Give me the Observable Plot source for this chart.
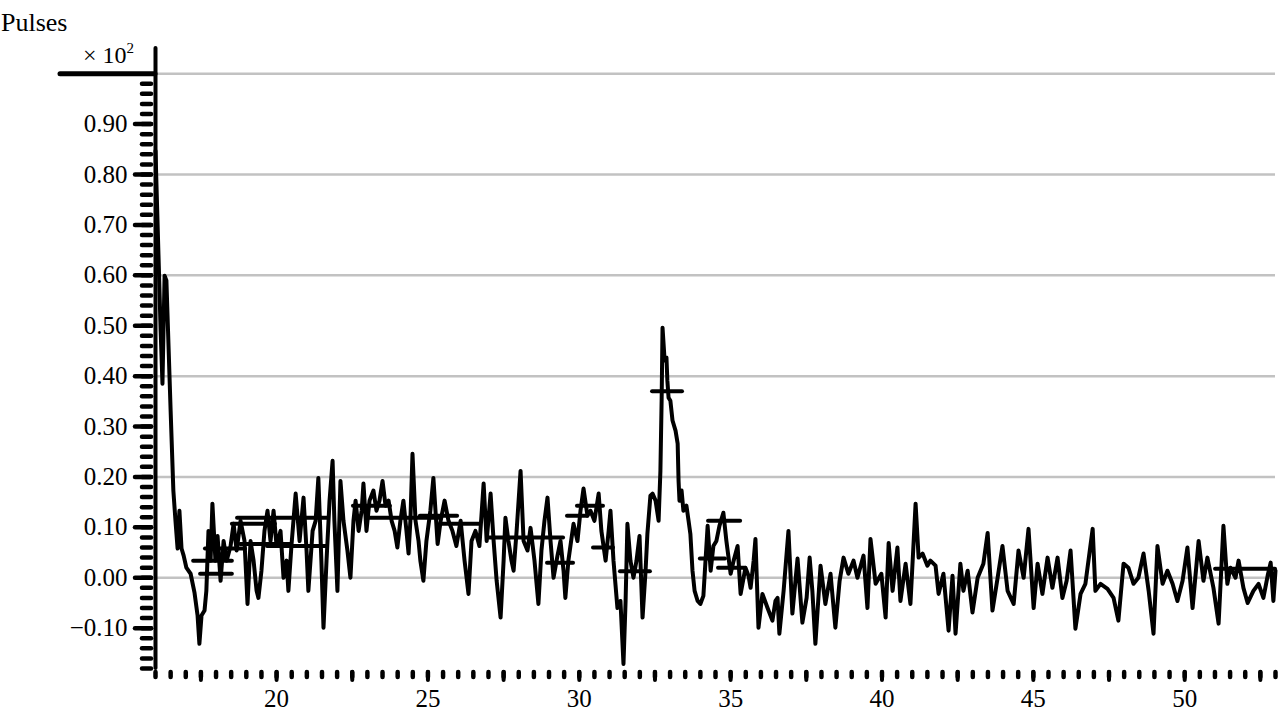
<!DOCTYPE html>
<html><head><meta charset="utf-8">
<script src="https://cdn.jsdelivr.net/npm/d3@7"></script>
<script src="https://cdn.jsdelivr.net/npm/@observablehq/plot@0.6"></script>
<style>
body{margin:0;background:#fff;}
#wrap{position:relative;width:1280px;height:716px;font-family:"Liberation Serif","Times New Roman",serif;color:#000;}
#ylab{position:absolute;left:1px;top:10px;font-size:26px;line-height:1;z-index:2;}
#mult{position:absolute;left:83px;top:43px;font-size:24px;line-height:1;z-index:2;}
#mult sup{font-size:15px;vertical-align:10px;line-height:0;}
</style></head><body>
<div id="wrap"><div id="ylab">Pulses</div><div id="mult">× 10<sup>2</sup></div></div>
<script>
// Main pattern (2θ in degrees, pulses ×10²)
const angle = [16.00,16.17,16.23,16.30,16.36,16.50,16.59,16.66,16.73,16.79,16.86,16.93,17.02,17.16,17.29,17.39,17.45,17.52,17.62,17.68,17.75,17.82,17.88,17.98,18.05,18.15,18.25,18.35,18.48,18.58,18.68,18.81,18.94,19.04,19.14,19.24,19.34,19.40,19.50,19.60,19.70,19.80,19.90,20.00,20.13,20.23,20.33,20.39,20.49,20.63,20.76,20.89,20.99,21.05,21.19,21.29,21.38,21.48,21.55,21.65,21.75,21.85,21.91,22.01,22.11,22.21,22.34,22.44,22.54,22.61,22.71,22.81,22.87,22.97,23.07,23.20,23.30,23.40,23.50,23.60,23.70,23.80,23.90,23.99,24.09,24.19,24.29,24.36,24.42,24.49,24.59,24.69,24.75,24.85,24.95,25.08,25.18,25.32,25.42,25.55,25.68,25.81,25.94,26.08,26.21,26.34,26.44,26.57,26.70,26.84,26.94,27.07,27.17,27.27,27.40,27.50,27.56,27.66,27.76,27.83,27.93,28.06,28.16,28.29,28.39,28.52,28.65,28.75,28.85,28.95,29.05,29.15,29.28,29.38,29.48,29.54,29.64,29.81,29.94,30.04,30.14,30.27,30.37,30.50,30.64,30.73,30.87,30.97,31.03,31.13,31.26,31.36,31.46,31.53,31.59,31.69,31.79,31.89,31.99,32.09,32.19,32.25,32.35,32.42,32.52,32.62,32.68,32.72,32.75,32.82,32.88,32.91,32.95,33.01,33.08,33.18,33.25,33.28,33.31,33.38,33.44,33.54,33.61,33.67,33.74,33.81,33.91,34.00,34.10,34.17,34.24,34.34,34.43,34.53,34.63,34.76,34.86,35.00,35.10,35.23,35.33,35.49,35.59,35.66,35.76,35.82,35.92,36.05,36.22,36.38,36.48,36.55,36.61,36.75,36.91,37.04,37.21,37.37,37.51,37.61,37.70,37.80,37.97,38.13,38.30,38.46,38.60,38.73,38.89,39.06,39.19,39.39,39.52,39.62,39.79,39.98,40.12,40.22,40.35,40.51,40.61,40.78,40.94,41.11,41.21,41.34,41.50,41.60,41.77,41.87,42.03,42.20,42.33,42.43,42.59,42.69,42.83,42.99,43.16,43.35,43.49,43.65,43.82,43.98,44.15,44.35,44.51,44.68,44.84,45.01,45.14,45.30,45.47,45.63,45.80,45.96,46.10,46.23,46.39,46.56,46.72,46.96,47.05,47.22,47.45,47.65,47.81,47.98,48.14,48.31,48.47,48.64,48.81,48.97,49.10,49.27,49.43,49.60,49.76,49.93,50.09,50.26,50.46,50.62,50.75,50.95,51.12,51.28,51.41,51.51,51.68,51.78,51.94,52.08,52.27,52.44,52.60,52.74,52.84,52.93,53.00];
const pulses = [0.847,0.490,0.385,0.599,0.590,0.331,0.173,0.113,0.058,0.133,0.058,0.044,0.020,0.008,-0.030,-0.075,-0.131,-0.075,-0.065,-0.026,0.093,0.034,0.147,0.034,0.083,-0.006,0.073,0.034,0.063,0.107,0.054,0.113,0.073,-0.052,0.073,0.034,-0.026,-0.040,0.014,0.093,0.133,0.073,0.133,0.063,0.093,0.000,0.034,-0.026,0.063,0.167,0.073,0.159,0.054,-0.026,0.093,0.113,0.198,0.034,-0.099,0.034,0.153,0.232,0.113,-0.026,0.192,0.113,0.054,0.000,0.113,0.153,0.093,0.133,0.187,0.093,0.153,0.173,0.133,0.153,0.192,0.143,0.153,0.113,0.093,0.060,0.113,0.153,0.093,0.048,0.113,0.246,0.113,0.073,0.034,-0.006,0.073,0.133,0.198,0.067,0.113,0.153,0.113,0.093,0.063,0.113,0.034,-0.032,0.073,0.093,0.063,0.187,0.073,0.167,0.073,-0.006,-0.079,0.034,0.119,0.073,0.034,0.014,0.093,0.212,0.073,0.054,0.099,0.034,-0.052,0.054,0.113,0.159,0.073,0.000,0.044,0.073,0.014,-0.040,0.034,0.107,0.073,0.133,0.177,0.123,0.133,0.113,0.167,0.093,0.034,0.093,0.133,0.034,-0.060,-0.046,-0.171,-0.046,0.107,0.034,0.000,0.034,0.083,-0.079,0.014,0.087,0.163,0.167,0.153,0.113,0.212,0.351,0.496,0.431,0.437,0.391,0.357,0.351,0.312,0.292,0.266,0.192,0.153,0.173,0.133,0.143,0.113,0.087,0.014,-0.026,-0.046,-0.052,-0.036,0.034,0.103,0.014,0.063,0.073,0.103,0.129,0.073,0.008,0.034,0.063,-0.032,0.020,0.004,-0.020,0.034,0.077,-0.099,-0.032,-0.060,-0.085,-0.046,-0.040,-0.111,-0.026,0.093,-0.071,0.038,-0.089,-0.040,0.040,-0.026,-0.131,0.024,-0.052,0.008,-0.099,-0.006,0.040,0.008,0.034,0.000,0.044,-0.060,0.077,-0.012,0.008,-0.079,0.069,-0.026,0.060,-0.046,0.028,-0.052,0.147,0.040,0.048,0.024,0.034,0.024,-0.032,0.008,-0.105,0.004,-0.111,0.028,-0.026,0.014,-0.069,0.000,0.028,0.089,-0.065,0.000,0.063,-0.026,-0.052,0.054,0.000,0.097,-0.060,0.028,-0.032,0.040,-0.020,0.040,-0.040,-0.006,0.054,-0.101,-0.032,-0.012,0.097,-0.026,-0.012,-0.022,-0.040,-0.085,0.028,0.020,-0.012,0.000,0.048,-0.026,-0.111,0.063,-0.012,0.014,-0.012,-0.046,-0.006,0.060,-0.060,0.073,-0.006,0.040,-0.020,-0.091,0.103,-0.012,0.020,0.000,0.034,-0.020,-0.050,-0.026,-0.012,-0.040,0.004,0.030,-0.046,0.014];

// Step (averaged) segments overlaid on the pattern
const stepStart = [17.26,17.49,17.65,18.54,18.81,18.71,19.70,22.54,23.00,24.75,25.42,26.97,28.95,29.61,29.94,30.47,31.36,32.42,34.27,34.00,34.60,51.02];
const stepEnd   = [18.54,18.54,18.97,19.96,20.46,21.68,21.68,23.76,25.42,25.98,26.74,29.48,29.81,30.27,30.80,31.13,32.35,33.41,35.33,34.83,35.49,53.00];
const stepLevel = [0.034,0.008,0.058,0.107,0.067,0.119,0.063,0.143,0.119,0.123,0.107,0.080,0.030,0.123,0.143,0.060,0.013,0.370,0.113,0.038,0.020,0.018];

// Axes
const xDomain = [16, 53];
const yDomain = [-0.18, 1.05];
const xTickLabels = [20, 25, 30, 35, 40, 45, 50];
const xMinorTicks = d3.range(16, 53.001, 0.5);
const xMidTicks = [17.5, 20, 22.5, 25, 27.5, 30, 32.5, 35, 37.5, 40, 42.5, 45, 47.5, 50, 52.5];
const yTickLabels = [-0.1, 0, 0.1, 0.2, 0.3, 0.4, 0.5, 0.6, 0.7, 0.8, 0.9];
const yMinorTicks = d3.range(-0.18, 1.0, 0.02).map(v => +v.toFixed(2));
const yTopTick = [1.0];
const yGrid = [0, 0.2, 0.4, 0.6, 0.8, 1.0];

const pattern = angle.map((a, i) => ({angle: a, pulses: pulses[i]}));
const steps = stepStart.map((s, i) => ({x1: s, x2: stepEnd[i], y: stepLevel[i]}));

const chart = Plot.plot({
  width: 1280, height: 716,
  marginLeft: 155, marginRight: 5, marginTop: 48, marginBottom: 48,
  x: {domain: xDomain},
  y: {domain: yDomain},
  style: {fontFamily: "'Liberation Serif','Times New Roman',serif", fontSize: "25px", background: "white", color: "black"},
  marks: [
    Plot.ruleY(yGrid, {stroke: "#c2c2c2", strokeWidth: 2.5}),
    Plot.axisY(yMinorTicks, {tickSize: 9, dx: -4, strokeWidth: 4.5, strokeLinecap: "round", fill: "none", label: null}),
    Plot.axisY(yTickLabels, {tickSize: 16, dx: -4, tickPadding: 8, strokeWidth: 4.5, strokeLinecap: "round", tickFormat: d3.format(".2f"), label: null}),
    Plot.axisY(yTopTick, {tickSize: 95, strokeWidth: 5, strokeLinecap: "round", fill: "none", label: null}),
    Plot.axisX(xMinorTicks, {tickSize: 5, dy: 4, strokeWidth: 4.5, strokeLinecap: "round", fill: "none", label: null}),
    Plot.axisX(xMidTicks, {tickSize: 8, dy: 4, strokeWidth: 4, strokeLinecap: "round", fill: "none", label: null}),
    Plot.axisX(xTickLabels, {tickSize: 0, tickPadding: 21, label: null}),
    Plot.ruleX([xDomain[0]], {strokeWidth: 4, strokeLinecap: "round"}),
    Plot.ruleY(steps, {x1: "x1", x2: "x2", y: "y", strokeWidth: 4, strokeLinecap: "round"}),
    Plot.line(pattern, {x: "angle", y: "pulses", stroke: "black", strokeWidth: 4, strokeLinejoin: "round"})
  ]
});
document.getElementById("wrap").appendChild(chart);
chart.style.position = "absolute";
chart.style.left = "0";
chart.style.top = "0";
</script>
</body></html>
